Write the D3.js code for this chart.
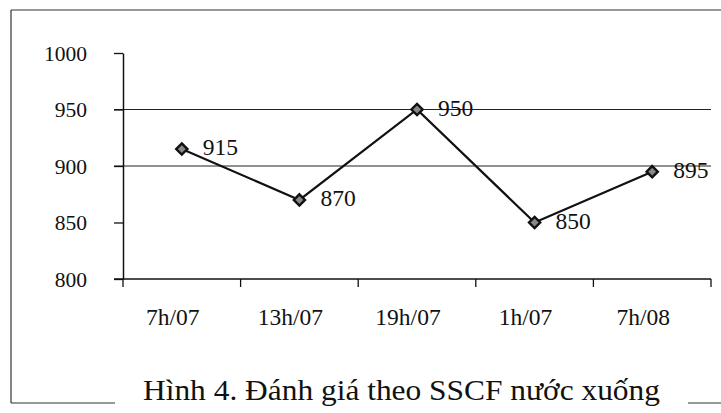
<!DOCTYPE html>
<html>
<head>
<meta charset="utf-8">
<script src="https://cdn.jsdelivr.net/npm/d3@7"></script>
<style>
  html, body { margin: 0; padding: 0; background: #fff; }
  svg { display: block; }
</style>
</head>
<body>
<svg id="chart" width="721" height="413"></svg>
<script>
const categories = ["7h/07", "13h/07", "19h/07", "1h/07", "7h/08"];
const values = [915, 870, 950, 850, 895];
const yTicks = [800, 850, 900, 950, 1000];
const gridValues = [900, 950];
const caption = "Hình 4. Đánh giá theo SSCF nước xuống";

const svg = d3.select("#chart");
const font = "'Liberation Serif', 'Times New Roman', serif";

const x = d3.scaleBand().domain(categories).range([123, 711]).paddingInner(0).paddingOuter(0);
const y = d3.scaleLinear().domain([800, 1000]).range([279, 53]);

// outer frame (partial, as in the scan)
const frame = svg.append("g").attr("stroke", "#333").attr("stroke-width", 1.2).attr("fill", "none");
frame.append("line").attr("x1", 11).attr("y1", 10).attr("x2", 721).attr("y2", 10);
frame.append("line").attr("x1", 11).attr("y1", 10).attr("x2", 11).attr("y2", 403);
frame.append("line").attr("x1", 11).attr("y1", 403).attr("x2", 115).attr("y2", 403);
frame.append("line").attr("x1", 688).attr("y1", 403).attr("x2", 721).attr("y2", 403);

// gridlines
svg.append("g").selectAll("line").data(gridValues).join("line")
  .attr("x1", 114).attr("x2", 711)
  .attr("y1", d => y(d)).attr("y2", d => y(d))
  .attr("stroke", "#222").attr("stroke-width", 1.2);

// y axis
const yAxis = svg.append("g").attr("transform", "translate(123,0)")
  .call(d3.axisLeft(y).tickValues(yTicks).tickFormat(d3.format("d"))
    .tickSize(9).tickPadding(27).tickSizeOuter(0));
yAxis.select(".domain").attr("stroke", "#111").attr("stroke-width", 1.5);
yAxis.selectAll(".tick line").attr("stroke", "#111").attr("stroke-width", 1.3);
yAxis.selectAll("text").attr("font-family", font).attr("font-size", 21.5).attr("fill", "#111").attr("dy", "0.33em");

// x axis with ticks at band boundaries
const xAxis = svg.append("g").attr("transform", "translate(0,279)");
xAxis.append("line").attr("x1", 114).attr("x2", 711).attr("y1", 0).attr("y2", 0)
  .attr("stroke", "#111").attr("stroke-width", 1.5);
const bounds = categories.map(c => x(c)).concat([x(categories[categories.length - 1]) + x.bandwidth()]);
xAxis.selectAll("line.tk").data(bounds).join("line").attr("class", "tk")
  .attr("x1", d => d).attr("x2", d => d).attr("y1", 0).attr("y2", 8)
  .attr("stroke", "#111").attr("stroke-width", 1.3);
xAxis.selectAll("text").data(categories).join("text")
  .attr("x", d => x(d) + x.bandwidth() / 2 - 9).attr("y", 46)
  .attr("text-anchor", "middle")
  .attr("font-family", font).attr("font-size", 23.5).attr("fill", "#111")
  .text(d => d);

// line
const pts = categories.map((c, i) => [x(c) + x.bandwidth() / 2, y(values[i])]);
svg.append("path").datum(pts)
  .attr("d", d3.line())
  .attr("fill", "none").attr("stroke", "#111").attr("stroke-width", 2.2);

// markers
svg.append("g").selectAll("path").data(pts).join("path")
  .attr("transform", d => `translate(${d[0]},${d[1]})`)
  .attr("d", d3.symbol().type(d3.symbolDiamond2).size(80))
  .attr("fill", "#888").attr("stroke", "#111").attr("stroke-width", 2.4);

// data labels
svg.append("g").selectAll("text").data(pts).join("text")
  .attr("x", d => d[0] + 21).attr("y", d => d[1] + 6)
  .attr("font-family", font).attr("font-size", 23.5).attr("fill", "#111")
  .text((d, i) => values[i]);

// caption
svg.append("text").attr("x", 143).attr("y", 400)
  .attr("font-family", font).attr("font-size", 30).attr("fill", "#111")
  .attr("textLength", 517).attr("lengthAdjust", "spacingAndGlyphs")
  .text(caption);
</script>
</body>
</html>
